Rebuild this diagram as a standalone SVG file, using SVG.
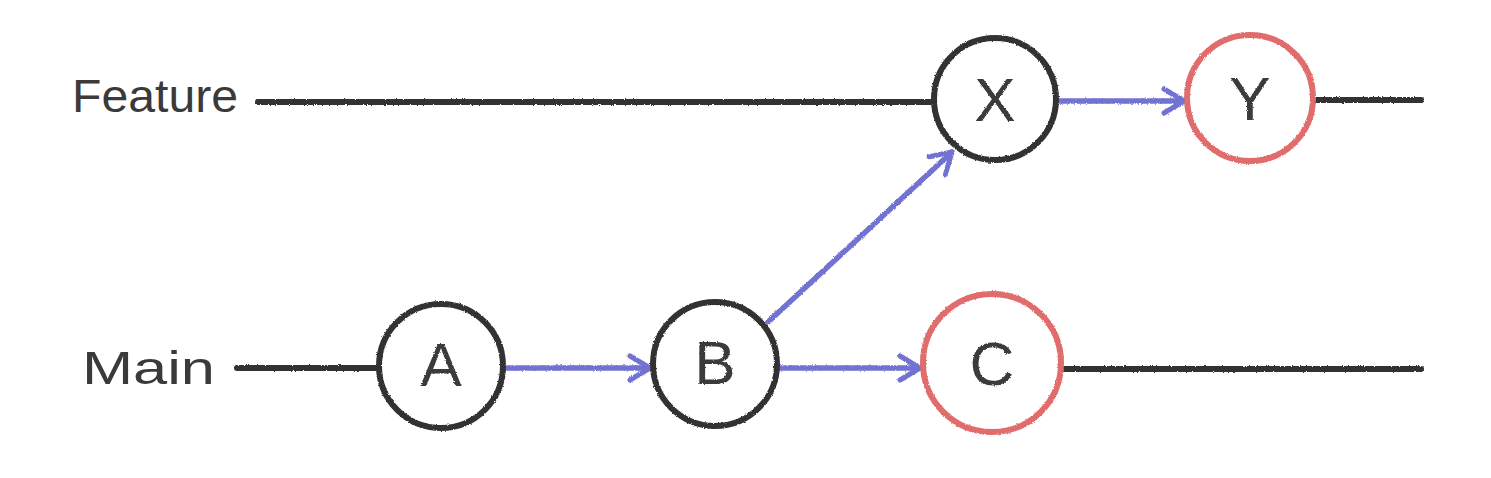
<svg xmlns="http://www.w3.org/2000/svg" width="1491" height="478" viewBox="0 0 1491 478">
<style>
.bg{fill:#ffffff}
.line{stroke:#333333;stroke-width:6;stroke-linecap:round;fill:none}
.arrow{stroke:#7272d2;stroke-width:5.5;stroke-linecap:round;fill:none}
.node{fill:none;stroke-width:6}
.black{stroke:#333333}
.red{stroke:#e06c6c}
.label{font-family:"Liberation Sans",Arial,sans-serif;font-size:46px;fill:#3a3a3a}
.letter{font-family:"Liberation Sans",Arial,sans-serif;font-size:62px;fill:#3a3a3a;text-anchor:middle;dominant-baseline:central}
</style>
<defs>
<filter id="pencil" x="-5%" y="-5%" width="110%" height="110%">
<feTurbulence type="fractalNoise" baseFrequency="0.9" numOctaves="2" seed="3" result="n"/>
<feDisplacementMap in="SourceGraphic" in2="n" scale="2.5" xChannelSelector="R" yChannelSelector="G"/>
</filter>
<marker id="head" viewBox="0 0 26 30" refX="24" refY="15" markerWidth="26" markerHeight="30" markerUnits="userSpaceOnUse" orient="auto">
<path d="M4 3 L24 15 L4 27" fill="none" stroke="#7272d2" stroke-width="5" stroke-linecap="round" stroke-linejoin="round"/>
</marker>
</defs>
<rect class="bg" width="1491" height="478"/>
<g id="labels">
<text class="label" x="72" y="112" textLength="166" lengthAdjust="spacingAndGlyphs">Feature</text>
<text class="label" x="82" y="384" textLength="133" lengthAdjust="spacingAndGlyphs">Main</text>
</g>
<g id="connectors" filter="url(#pencil)">
<line class="line" x1="258" y1="102" x2="933" y2="102"/>
<line class="line" x1="1316" y1="100" x2="1421" y2="100"/>
<line class="line" x1="237" y1="368" x2="378" y2="368"/>
<line class="line" x1="1063" y1="369" x2="1421" y2="369"/>
<line class="arrow" x1="506" y1="368" x2="650" y2="368" marker-end="url(#head)"/>
<line class="arrow" x1="778" y1="368" x2="920" y2="368" marker-end="url(#head)"/>
<line class="arrow" x1="768" y1="322" x2="952" y2="152" marker-end="url(#head)"/>
<line class="arrow" x1="1058" y1="101" x2="1184" y2="101" marker-end="url(#head)"/>
</g>
<g id="node-A" filter="url(#pencil)">
<circle class="node black" cx="441" cy="366" r="62"/>
<text class="letter" x="441" y="364">A</text>
</g>
<g id="node-B" filter="url(#pencil)">
<circle class="node black" cx="715" cy="364" r="62"/>
<text class="letter" x="715" y="362">B</text>
</g>
<g id="node-C" filter="url(#pencil)">
<circle class="node red" cx="992" cy="363" r="69"/>
<text class="letter" x="992" y="363">C</text>
</g>
<g id="node-X" filter="url(#pencil)">
<circle class="node black" cx="995" cy="99" r="61"/>
<text class="letter" x="995" y="99">X</text>
</g>
<g id="node-Y" filter="url(#pencil)">
<circle class="node red" cx="1250" cy="98" r="63"/>
<text class="letter" x="1250" y="98">Y</text>
</g>
</svg>
